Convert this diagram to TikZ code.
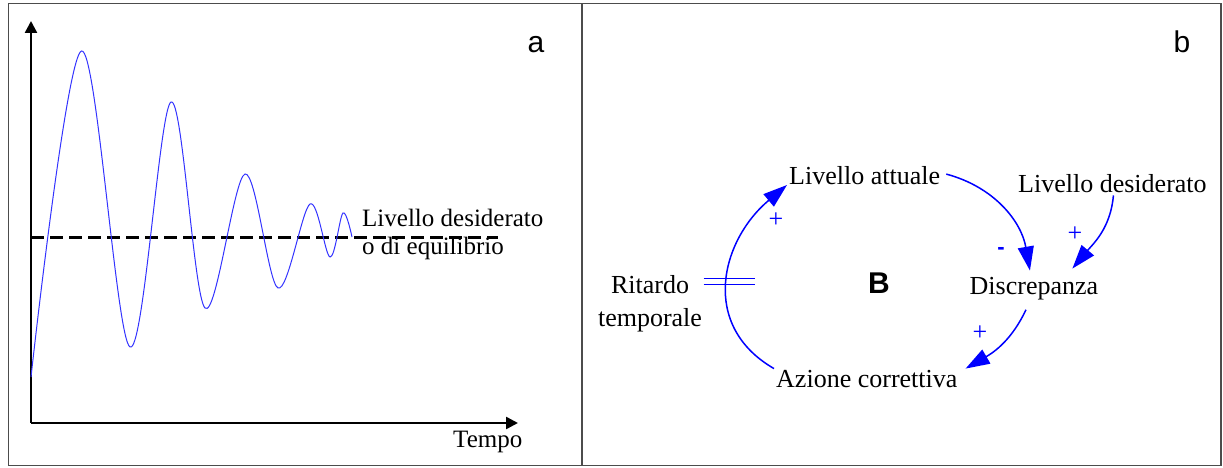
\documentclass[tikz,border=0pt]{standalone}
\usepackage{fontspec}
\setmainfont{Liberation Serif}
\setsansfont{Liberation Sans}
\usetikzlibrary{positioning, arrows.meta}

\begin{document}
\begin{tikzpicture}[x=1pt, y=1pt,
                    lbl/.style={font=\fontsize{26}{28}\selectfont, inner sep=2pt},
                    sgn/.style={font=\fontsize{26}{26}\selectfont, text=blue, inner sep=0pt},
                    axarrow/.style={-{Triangle[length=12pt, width=12pt]}, line width=2.5pt},
                    carrow/.style={-{Triangle[length=24pt, width=16pt]}, blue, line width=1.5pt}]
        \useasboundingbox (0,0) rectangle (1223,468);
        \draw[line width=1.3pt, black!70] (8.5,2.5) rectangle (1221,464.5) (582,2.5)--(582,464.5);
        % a
        \draw (31,45) coordinate (orig);
        \draw[axarrow] (orig)--(31,447) coordinate (ytip);
        \draw[axarrow] (orig)--(518,45) coordinate (xtip);
        \draw[line width=3pt, dash pattern=on 13pt off 6pt] (31,230)--(498,230);
        \draw[blue!80, line width=1pt] plot[smooth, tension=0.55] coordinates {(31,91) (81.5,417) (130,121) (171,366) (205,160) (245,294) (278,180) (310,264) (330,211) (343,255) (352,231)};
        \draw (362,213) node[lbl, font=\fontsize{25}{28}\selectfont, anchor=base west, inner sep=0pt, align=left] (eqlabel) {Livello desiderato\\o di equilibrio};
        \draw (453,20) node[lbl, font=\fontsize{25}{28}\selectfont, anchor=base west, inner sep=0pt] (tempo) {Tempo};
        \draw (536,415) node[font=\sffamily\fontsize{30}{30}\selectfont, anchor=base] (pa) {a}
              (1182,415) node[font=\sffamily\fontsize{30}{30}\selectfont, anchor=base] (pb) {b};
        % b
        \draw (787,283) node[lbl, anchor=base west] (attuale) {Livello attuale}
              (1016,275) node[lbl, anchor=base west] (desiderato) {Livello desiderato}
              (967.5,173) node[lbl, anchor=base west] (discrep) {Discrepanza}
              (774,80) node[lbl, anchor=base west] (azione) {Azione correttiva}
              (650,164) node[lbl, align=center, font=\fontsize{26}{33}\selectfont] (ritardo) {Ritardo\\temporale}
              (879,185) node[font=\sffamily\bfseries\fontsize{30}{30}\selectfont] (loopB) {B};
        \draw[carrow] (azione.north west) to[out=150, in=-140, looseness=1.2] coordinate[pos=0.5] (delay) (attuale.base west);
        \draw[blue, line width=1.2pt] ([xshift=-24pt, yshift=3pt]delay)--([xshift=27pt, yshift=3pt]delay)
                                      ([xshift=-24pt, yshift=-3pt]delay)--([xshift=27pt, yshift=-3pt]delay);
        \draw[carrow] ([xshift=4pt, yshift=2pt]attuale.east) to[out=-15, in=100] ([xshift=-4pt, yshift=5pt]discrep.north);
        \draw[carrow] ([xshift=1pt]desiderato.south) to[out=-95, in=50] ([xshift=-28pt, yshift=7pt]discrep.north east);
        \draw[carrow] ([xshift=-8pt, yshift=-7pt]discrep.south) to[out=-115, in=30] ([xshift=6pt]azione.north east);
        \draw (776,248) node[sgn] (s1) {+}
              (1075,234) node[sgn] (s2) {+}
              (980,135) node[sgn] (s3) {+}
              (1001,217) node[sgn, font=\sffamily\bfseries\fontsize{22}{22}\selectfont] (s4) {-};
\end{tikzpicture}
\end{document}
